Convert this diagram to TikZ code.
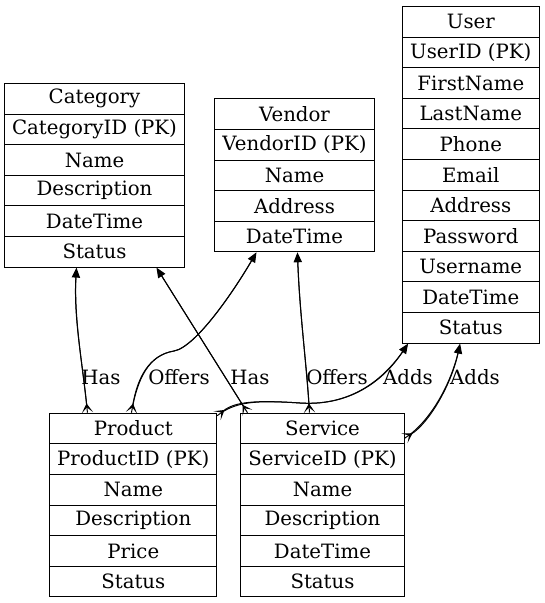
\documentclass[tikz,border=0pt]{standalone}
\usepackage{fontspec}
\setmainfont{DejaVu Serif}
\usetikzlibrary{arrows.meta,calc}
\begin{document}
\begin{tikzpicture}[x=0.75pt,y=-0.75pt,
  txt/.style={font=\fontsize{14.8}{17}\selectfont},
  cell/.style={txt, draw, line width=0.75pt, minimum height=22.95pt, inner sep=0pt, anchor=north},
  lbl/.style={txt, inner sep=0pt},
  rel/.style={line width=0.75pt,
    {Stealth[reversed,length=7pt,width=8.5pt,inset=4pt]}-{Triangle[length=7.5pt,width=6.2pt]},
    postaction={draw, arrows=-, shorten >=4pt}}
]
\useasboundingbox (0,0) rectangle (545,603);
% Category
\foreach \t [count=\i from 0] in {Category,CategoryID (PK),Name,Description,DateTime,Status}
  \node[cell, minimum width=134.3pt] (cat\i) at (94.5,{83+30.6*\i}) {\t};
% Vendor
\foreach \t [count=\i from 0] in {Vendor,VendorID (PK),Name,Address,DateTime}
  \node[cell, minimum width=119.3pt] (vend\i) at (294.5,{98.3+30.6*\i}) {\t};
% User
\foreach \t [count=\i from 0] in {User,UserID (PK),FirstName,LastName,Phone,Email,Address,Password,Username,DateTime,Status}
  \node[cell, minimum width=102.3pt] (user\i) at (470.8,{6+30.6*\i}) {\t};
% Product
\foreach \t [count=\i from 0] in {Product,ProductID (PK),Name,Description,Price,Status}
  \node[cell, minimum width=125pt] (prod\i) at (133.3,{412.7+30.6*\i}) {\t};
% Service
\foreach \t [count=\i from 0] in {Service,ServiceID (PK),Name,Description,DateTime,Status}
  \node[cell, minimum width=122.3pt] (serv\i) at (322.5,{412.7+30.6*\i}) {\t};

% connectors
\draw[rel] ($(prod0.north west)+(38,0)$) .. controls +(-5,-50) and +(-3,50) .. ($(cat5.south west)+(72,0)$);
\coordinate (m2) at (174,351);
\draw[rel] ($(prod0.north west)+(82,0)$) .. controls +(6,-35) and +(-25,4) .. (m2) .. controls +(22,-4) and +(-22,38) .. ($(vend4.south west)+(42,0)$);
\draw[rel] ($(serv0.north west)+(7,0)$) -- ($(cat5.south west)+(152,0)$);
\draw[rel] ($(serv0.north west)+(69,0)$) .. controls +(-3,-50) and +(2,60) .. ($(vend4.south west)+(83,0)$);
\coordinate (m5) at (300,403);
\draw[rel] ($(prod0.north east)+(0,3)$) .. controls +(18,-14) and +(-45,-3) .. (m5) .. controls +(45,3) and +(-28,42) .. ($(user10.south west)+(6,0)$);
\draw[rel] ($(serv0.south east)+(0,-6)$) .. controls +(24,-15) and +(-9,42) .. ($(user10.south west)+(58,0)$);

% labels
\node[lbl] (l1) at (101,377) {Has};
\node[lbl] (l2) at (179,377) {Offers};
\node[lbl] (l3) at (250,377) {Has};
\node[lbl] (l4) at (337,377) {Offers};
\node[lbl] (l5) at (408,377) {Adds};
\node[lbl] (l6) at (475,377) {Adds};
\end{tikzpicture}
\end{document}
